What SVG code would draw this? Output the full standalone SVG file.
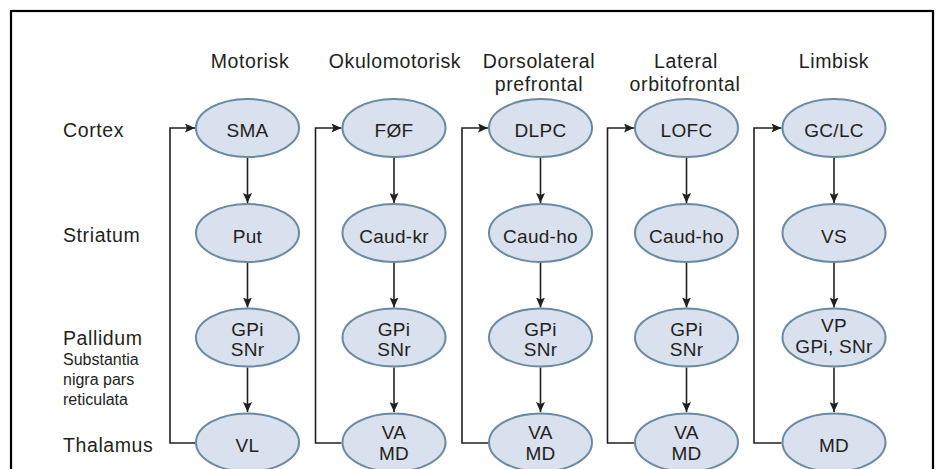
<svg xmlns="http://www.w3.org/2000/svg" width="936" height="469" viewBox="0 0 936 469">
<defs>
<marker id="ah" markerUnits="userSpaceOnUse" markerWidth="11" markerHeight="9" refX="10" refY="4.5" orient="auto">
<path d="M0,0 L10,4.5 L0,9 L2,4.5 z" fill="#231f20"/>
</marker>
<style>
.t{font-family:"Liberation Sans",Arial,sans-serif;font-size:19.5px;letter-spacing:0.6px;fill:#231f20;text-anchor:middle}
.l{font-family:"Liberation Sans",Arial,sans-serif;font-size:19.5px;letter-spacing:0.6px;fill:#231f20}
.s{font-family:"Liberation Sans",Arial,sans-serif;font-size:16px;fill:#231f20}
.n{font-family:"Liberation Sans",Arial,sans-serif;font-size:19px;letter-spacing:0.3px;fill:#231f20;text-anchor:middle}
.e{fill:#d9e0ee;stroke:#6a89a2;stroke-width:2}
.c{fill:none;stroke:#231f20;stroke-width:1.6}
</style>
</defs>
<rect x="11" y="11" width="922" height="480" fill="#fff" stroke="#000" stroke-width="2.2"/>
<g id="headers">
<text class="t" x="250" y="68">Motorisk</text>
<text class="t" x="395" y="68">Okulomotorisk</text>
<text class="t" x="539" y="68">Dorsolateral</text>
<text class="t" x="539" y="90.5">prefrontal</text>
<text class="t" x="686" y="68">Lateral</text>
<text class="t" x="685" y="90.5">orbitofrontal</text>
<text class="t" x="834" y="68">Limbisk</text>
</g>
<g id="rowlabels">
<text class="l" x="63" y="136.7">Cortex</text>
<text class="l" x="63" y="241.7">Striatum</text>
<text class="l" x="63" y="345">Pallidum</text>
<text class="s" x="63" y="365">Substantia</text>
<text class="s" x="63" y="385">nigra pars</text>
<text class="s" x="63" y="405">reticulata</text>
<text class="l" x="63" y="451.7">Thalamus</text>
</g>
<g id="connectors">
<path class="c" d="M247.5,158 V203" marker-end="url(#ah)"/>
<path class="c" d="M247.5,263 V307.5" marker-end="url(#ah)"/>
<path class="c" d="M247.5,367.5 V412" marker-end="url(#ah)"/>
<path class="c" d="M195,443 H170 V128 H195" marker-end="url(#ah)"/>
<path class="c" d="M394,158 V203" marker-end="url(#ah)"/>
<path class="c" d="M394,263 V307.5" marker-end="url(#ah)"/>
<path class="c" d="M394,367.5 V412" marker-end="url(#ah)"/>
<path class="c" d="M341.5,443 H315.5 V128 H341.5" marker-end="url(#ah)"/>
<path class="c" d="M540.5,158 V203" marker-end="url(#ah)"/>
<path class="c" d="M540.5,263 V307.5" marker-end="url(#ah)"/>
<path class="c" d="M540.5,367.5 V412" marker-end="url(#ah)"/>
<path class="c" d="M488,443 H462 V128 H488" marker-end="url(#ah)"/>
<path class="c" d="M686.5,158 V203" marker-end="url(#ah)"/>
<path class="c" d="M686.5,263 V307.5" marker-end="url(#ah)"/>
<path class="c" d="M686.5,367.5 V412" marker-end="url(#ah)"/>
<path class="c" d="M634,443 H607.5 V128 H634" marker-end="url(#ah)"/>
<path class="c" d="M834,158 V203" marker-end="url(#ah)"/>
<path class="c" d="M834,263 V307.5" marker-end="url(#ah)"/>
<path class="c" d="M834,367.5 V412" marker-end="url(#ah)"/>
<path class="c" d="M781.5,443 H754 V128 H781.5" marker-end="url(#ah)"/>
</g>
<g id="SMA"><ellipse class="e" cx="247.5" cy="128" rx="51.5" ry="29"/><text class="n" x="247.5" y="136.7">SMA</text></g>
<g id="Put"><ellipse class="e" cx="247.5" cy="233" rx="51.5" ry="29"/><text class="n" x="247.5" y="242.5">Put</text></g>
<g id="GPi1"><ellipse class="e" cx="247.5" cy="337.5" rx="51.5" ry="29"/><text class="n" x="247.5" y="336">GPi</text><text class="n" x="247.5" y="356">SNr</text></g>
<g id="VL"><ellipse class="e" cx="247.5" cy="442.5" rx="51.5" ry="29"/><text class="n" x="247.5" y="451.5">VL</text></g>
<g id="FOF"><ellipse class="e" cx="394" cy="128" rx="51.5" ry="29"/><text class="n" x="394" y="136.7">FØF</text></g>
<g id="Caudkr"><ellipse class="e" cx="394" cy="233" rx="51.5" ry="29"/><text class="n" x="394" y="242.5">Caud-kr</text></g>
<g id="GPi2"><ellipse class="e" cx="394" cy="337.5" rx="51.5" ry="29"/><text class="n" x="394" y="336">GPi</text><text class="n" x="394" y="356">SNr</text></g>
<g id="VAMD2"><ellipse class="e" cx="394" cy="442.5" rx="51.5" ry="29"/><text class="n" x="394" y="439.3">VA</text><text class="n" x="394" y="460">MD</text></g>
<g id="DLPC"><ellipse class="e" cx="540.5" cy="128" rx="51.5" ry="29"/><text class="n" x="540.5" y="136.7">DLPC</text></g>
<g id="Caudho3"><ellipse class="e" cx="540.5" cy="233" rx="51.5" ry="29"/><text class="n" x="540.5" y="242.5">Caud-ho</text></g>
<g id="GPi3"><ellipse class="e" cx="540.5" cy="337.5" rx="51.5" ry="29"/><text class="n" x="540.5" y="336">GPi</text><text class="n" x="540.5" y="356">SNr</text></g>
<g id="VAMD3"><ellipse class="e" cx="540.5" cy="442.5" rx="51.5" ry="29"/><text class="n" x="540.5" y="439.3">VA</text><text class="n" x="540.5" y="460">MD</text></g>
<g id="LOFC"><ellipse class="e" cx="686.5" cy="128" rx="51.5" ry="29"/><text class="n" x="686.5" y="136.7">LOFC</text></g>
<g id="Caudho4"><ellipse class="e" cx="686.5" cy="233" rx="51.5" ry="29"/><text class="n" x="686.5" y="242.5">Caud-ho</text></g>
<g id="GPi4"><ellipse class="e" cx="686.5" cy="337.5" rx="51.5" ry="29"/><text class="n" x="686.5" y="336">GPi</text><text class="n" x="686.5" y="356">SNr</text></g>
<g id="VAMD4"><ellipse class="e" cx="686.5" cy="442.5" rx="51.5" ry="29"/><text class="n" x="686.5" y="439.3">VA</text><text class="n" x="686.5" y="460">MD</text></g>
<g id="GCLC"><ellipse class="e" cx="834" cy="128" rx="51.5" ry="29"/><text class="n" x="834" y="136.7">GC/LC</text></g>
<g id="VS"><ellipse class="e" cx="834" cy="233" rx="51.5" ry="29"/><text class="n" x="834" y="242.5">VS</text></g>
<g id="VP"><ellipse class="e" cx="834" cy="337.5" rx="51.5" ry="29"/><text class="n" x="834" y="332">VP</text><text class="n" x="834" y="352.7">GPi, SNr</text></g>
<g id="MD5"><ellipse class="e" cx="834" cy="442.5" rx="51.5" ry="29"/><text class="n" x="834" y="451.5">MD</text></g>
</svg>
